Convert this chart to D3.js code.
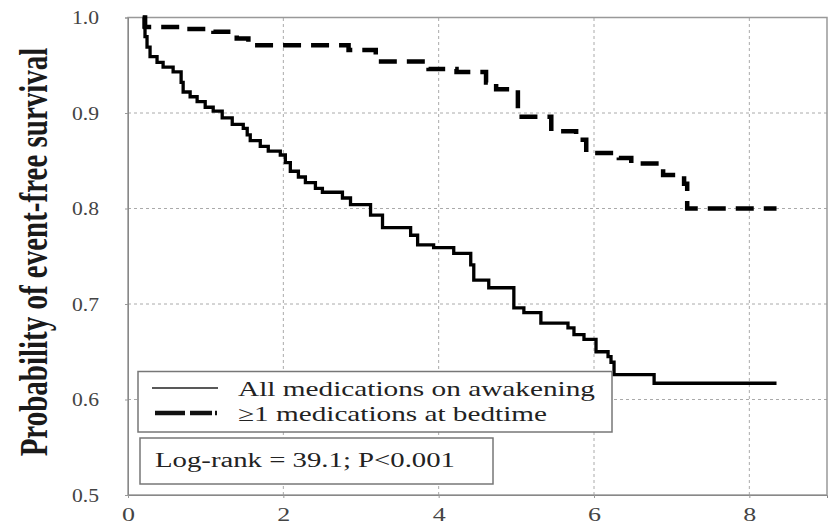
<!DOCTYPE html>
<html><head><meta charset="utf-8">
<script src="https://cdn.jsdelivr.net/npm/d3@7"></script>
<style>body{margin:0;background:#fff}svg{display:block}</style>
</head><body>
<svg id="c" width="833" height="527"></svg>
<script>
const timeTicks = [0, 2, 4, 6, 8];
const survTicks = [0.5, 0.6, 0.7, 0.8, 0.9, 1.0];
const awakeTimes = [0, 0.19, 0.206, 0.219, 0.245, 0.284, 0.374, 0.452, 0.581, 0.684, 0.71, 0.8, 0.89, 0.994, 1.097, 1.213, 1.342, 1.484, 1.535, 1.574, 1.703, 1.806, 1.961, 2.026, 2.09, 2.194, 2.284, 2.413, 2.503, 2.761, 2.865, 3.123, 3.277, 3.639, 3.729, 3.935, 4.194, 4.413, 4.452, 4.645, 4.968, 5.097, 5.316, 5.665, 5.742, 5.871, 6.026, 6.181, 6.219, 6.258, 6.774, 8.35];
const awakeSurv = [1.0, 1.0, 0.990, 0.980, 0.969, 0.959, 0.953, 0.948, 0.943, 0.932, 0.922, 0.917, 0.912, 0.906, 0.902, 0.895, 0.888, 0.884, 0.877, 0.871, 0.865, 0.860, 0.856, 0.848, 0.839, 0.833, 0.827, 0.821, 0.817, 0.811, 0.804, 0.793, 0.780, 0.772, 0.762, 0.759, 0.753, 0.741, 0.725, 0.717, 0.696, 0.691, 0.680, 0.675, 0.668, 0.663, 0.650, 0.645, 0.639, 0.626, 0.617, 0.617];
const bedTimes = [0.19, 0.22, 0.71, 1.10, 1.40, 1.55, 2.84, 3.19, 3.87, 4.23, 4.61, 4.74, 5.02, 5.45, 5.77, 5.90, 6.32, 6.48, 6.89, 7.16, 7.20, 8.35];
const bedSurv = [1.0, 0.990, 0.988, 0.985, 0.978, 0.971, 0.966, 0.954, 0.946, 0.943, 0.932, 0.925, 0.896, 0.881, 0.872, 0.858, 0.853, 0.847, 0.835, 0.826, 0.800, 0.800];
const seriesNames = ["All medications on awakening", "\u22651 medications at bedtime"];
const yTitle = "Probability of event-free survival";
const statText = "Log-rank = 39.1; P<0.001";

const svg = d3.select("#c");
const x = d3.scaleLinear().domain([0, 9]).range([128, 827]);
const y = d3.scaleLinear().domain([0.5, 1.0]).range([495, 17.5]);
const serif = "'Liberation Serif','Times New Roman',serif";

// grid
svg.append("g").selectAll("line").data(survTicks.filter(d => d > 0.5 && d < 1)).join("line")
  .attr("x1", x(0)).attr("x2", x(9)).attr("y1", d => y(d)).attr("y2", d => y(d))
  .attr("stroke", "#aaa").attr("stroke-width", 1).attr("stroke-dasharray", "3,3");
svg.append("g").selectAll("line").data(timeTicks.filter(d => d > 0)).join("line")
  .attr("x1", d => x(d)).attr("x2", d => x(d)).attr("y1", y(0.5)).attr("y2", y(1))
  .attr("stroke", "#aaa").attr("stroke-width", 1).attr("stroke-dasharray", "3,3");

// frame
svg.append("rect").attr("x", x(0)).attr("y", y(1)).attr("width", x(9) - x(0)).attr("height", y(0.5) - y(1))
  .attr("fill", "none").attr("stroke", "#999").attr("stroke-width", 1.5);

// axes
const yAxis = svg.append("g").attr("transform", `translate(${x(0)},0)`)
  .call(d3.axisLeft(y).tickValues(survTicks).tickFormat(d3.format(".1f")).tickSize(3).tickPadding(26));
yAxis.attr("font-family", null).attr("font-size", null);
yAxis.select(".domain").attr("stroke", "#888");
yAxis.selectAll(".tick line").attr("stroke", "#999");
yAxis.selectAll("text").style("font-family", serif).style("font-size", "19px").attr("fill", "#444")
  .attr("textLength", 27).attr("lengthAdjust", "spacingAndGlyphs");

const xAxis = svg.append("g").attr("transform", `translate(0,${y(0.5)})`)
  .call(d3.axisBottom(x).tickValues(timeTicks).tickFormat(d3.format("d")).tickSize(3).tickPadding(10));
xAxis.attr("font-family", null).attr("font-size", null);
xAxis.select(".domain").attr("stroke", "#888");
xAxis.selectAll(".tick line").attr("stroke", "#999");
xAxis.selectAll("text").style("font-family", serif).style("font-size", "19px").attr("fill", "#444")
  .attr("textLength", 13).attr("lengthAdjust", "spacingAndGlyphs");

// curves
const line = d3.line().x(d => x(d[0])).y(d => y(d[1])).curve(d3.curveStepAfter);
const awake = awakeTimes.map((t, i) => [t, awakeSurv[i]]).filter(d => d[0] >= 0.19);
const bed = bedTimes.map((t, i) => [t, bedSurv[i]]);
svg.append("path").attr("d", line(awake)).attr("fill", "none").attr("stroke", "#000").attr("stroke-width", 3.3);
svg.append("path").attr("d", line(bed)).attr("fill", "none").attr("stroke", "#000").attr("stroke-width", 4.5)
  .attr("stroke-dasharray", "18,10");

// y title
svg.append("text").attr("transform", "translate(47,252) rotate(-90) scale(1,1.35)")
  .attr("text-anchor", "middle").attr("font-family", serif).attr("font-weight", "bold")
  .attr("font-size", 29).attr("fill", "#1a1a1a").text(yTitle);

// legend
const lg = svg.append("g");
lg.append("rect").attr("x", 138).attr("y", 371.5).attr("width", 474).attr("height", 60.5)
  .attr("fill", "#fff").attr("stroke", "#777").attr("stroke-width", 1.5);
lg.append("line").attr("x1", 152).attr("x2", 218).attr("y1", 388).attr("y2", 388).attr("stroke", "#222").attr("stroke-width", 1.5);
lg.append("line").attr("x1", 155).attr("x2", 217).attr("y1", 413).attr("y2", 413).attr("stroke", "#111").attr("stroke-width", 4.5)
  .attr("stroke-dasharray", "30,5,22,3,2");
lg.append("text").attr("x", 238).attr("y", 396).attr("font-family", serif).attr("font-size", 21).attr("fill", "#222")
  .attr("textLength", 357).attr("lengthAdjust", "spacingAndGlyphs").text(seriesNames[0]);
lg.append("text").attr("x", 238).attr("y", 421).attr("font-family", serif).attr("font-size", 21).attr("fill", "#222")
  .attr("textLength", 309).attr("lengthAdjust", "spacingAndGlyphs").text(seriesNames[1]);

const sb = svg.append("g");
sb.append("rect").attr("x", 140).attr("y", 438).attr("width", 353).attr("height", 46)
  .attr("fill", "#fff").attr("stroke", "#777").attr("stroke-width", 1.5);
sb.append("text").attr("x", 155).attr("y", 467).attr("font-family", serif).attr("font-size", 20).attr("fill", "#222")
  .attr("textLength", 300).attr("lengthAdjust", "spacingAndGlyphs").text(statText);
</script>
</body></html>
